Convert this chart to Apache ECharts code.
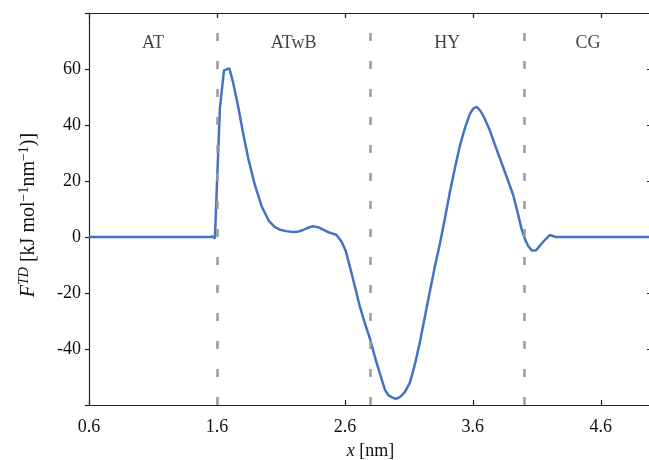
<!DOCTYPE html>
<html><head><meta charset="utf-8">
<script src="https://cdn.jsdelivr.net/npm/echarts@6/dist/echarts.min.js"></script>
<style>html,body{margin:0;padding:0;background:#fff}#c{width:649px;height:460px}</style>
</head><body><div id="c"></div>
<script>
// Distance along x [nm]
const xValues = [0.6, 1.0, 1.4, 1.545, 1.565, 1.584, 1.623, 1.655, 1.697, 1.727, 1.766, 1.805, 1.845, 1.897, 1.949, 2.005, 2.05, 2.092, 2.14, 2.196, 2.24, 2.274, 2.31, 2.345, 2.391, 2.43, 2.47, 2.505, 2.535, 2.574, 2.605, 2.639, 2.678, 2.717, 2.756, 2.795, 2.834, 2.873, 2.913, 2.94, 2.965, 2.995, 3.016, 3.04, 3.069, 3.108, 3.147, 3.186, 3.225, 3.264, 3.303, 3.342, 3.381, 3.42, 3.459, 3.498, 3.537, 3.577, 3.602, 3.63, 3.66, 3.69, 3.733, 3.772, 3.824, 3.868, 3.915, 3.954, 3.98, 4.005, 4.03, 4.06, 4.095, 4.15, 4.2, 4.25, 4.6, 5.0];
// Thermodynamic force F^TD [kJ mol^-1 nm^-1]
const fValues = [0, 0, 0, 0, 0.2, -0.5, 46, 59.5, 60.2, 55, 46.5, 37, 28, 18.5, 11, 5.8, 3.6, 2.6, 2.1, 1.8, 2.0, 2.5, 3.3, 3.8, 3.5, 2.6, 1.7, 1.2, 0.7, -1.7, -4.8, -10.6, -17.7, -24.9, -30.8, -36.2, -42.7, -48.7, -54.6, -56.5, -57.2, -57.8, -57.5, -56.8, -55.3, -52, -45.5, -37.5, -28.5, -19.5, -10.5, -2.5, 6.5, 16, 24.5, 32.5, 38.8, 44, 45.8, 46.5, 45, 42.5, 38, 33, 26.5, 21, 15, 8, 3, -0.5, -3, -4.8, -4.7, -1.7, 0.7, 0, 0, 0];

const xTicks = [0.6, 1.6, 2.6, 3.6, 4.6];
const yTickLabels = [-40, -20, 0, 20, 40, 60];
const boundaries = [1.6, 2.8, 4.0];
const regionNames = ['AT', 'ATwB', 'HY', 'CG'];
const regionCenters = [1.1, 2.2, 3.4, 4.5];
const regionLabelY = 69.3;

const FONT = 'Liberation Serif';
const TXT = '#111';
const AX = '#222';
const FS = 18;

const chart = echarts.init(document.getElementById('c'), null, {renderer: 'canvas'});
const lineData = xValues.map((x, i) => [x, fValues[i]]);

chart.setOption({
  animation: false,
  backgroundColor: '#fff',
  grid: {left: 89, top: 13, width: 563, height: 392, outerBoundsMode: 'none', containLabel: false},
  xAxis: [{
    type: 'value', min: 0.6, max: 5.0, position: 'bottom',
    axisLine: {show: true, onZero: false, lineStyle: {color: AX, width: 1.2}},
    axisTick: {show: true, inside: true, length: 5, customValues: xTicks, lineStyle: {color: AX, width: 1.2}},
    axisLabel: {show: true, customValues: xTicks, margin: 13, fontFamily: FONT, fontSize: FS, color: TXT,
      formatter: v => v.toFixed(1)},
    splitLine: {show: false},
    name: '{i|x} [nm]', nameLocation: 'middle', nameGap: 37,
    nameTextStyle: {fontFamily: FONT, fontSize: FS, color: TXT,
      rich: {i: {fontFamily: FONT, fontSize: FS, fontStyle: 'italic', color: TXT}}}
  }, {
    type: 'value', min: 0.6, max: 5.0, position: 'top',
    axisLine: {show: true, onZero: false, lineStyle: {color: AX, width: 1.2}},
    axisTick: {show: true, inside: true, length: 5, customValues: xTicks, lineStyle: {color: AX, width: 1.2}},
    axisLabel: {show: false},
    splitLine: {show: false}
  }],
  yAxis: [{
    type: 'value', min: -60, max: 80, interval: 20, position: 'left',
    axisLine: {show: true, onZero: false, lineStyle: {color: AX, width: 1.2}},
    axisTick: {show: true, inside: false, length: 4, lineStyle: {color: AX, width: 1.2}},
    axisLabel: {margin: 8, fontFamily: FONT, fontSize: FS, color: TXT,
      formatter: v => yTickLabels.indexOf(v) >= 0 ? String(v) : ''},
    splitLine: {show: false},
    name: '{i|F}{si|TD} [kJ mol{s|−1}nm{s|−1})]',
    nameLocation: 'middle', nameGap: 48, nameRotate: 90,
    nameTextStyle: {fontFamily: FONT, fontSize: 20, color: TXT, padding: [0, 12, 0, 0],
      rich: {
        i: {fontFamily: FONT, fontSize: 20, fontStyle: 'italic', color: TXT},
        si: {fontFamily: FONT, fontSize: 14, fontStyle: 'italic', color: TXT, padding: [0, 0, 10, 0]},
        s: {fontFamily: FONT, fontSize: 14, color: TXT, padding: [0, 0, 10, 0]}
      }}
  }, {
    type: 'value', min: -60, max: 80, interval: 20, position: 'right',
    axisLine: {show: true, onZero: false, lineStyle: {color: AX, width: 1.2}},
    axisTick: {show: true, inside: true, length: 5, lineStyle: {color: AX, width: 1.2}},
    axisLabel: {show: false},
    splitLine: {show: false}
  }],
  series: [{
    type: 'line', xAxisIndex: 0, yAxisIndex: 0,
    data: lineData, showSymbol: false, symbol: 'none', smooth: false,
    lineStyle: {color: '#4472C4', width: 2.5},
    z: 3,
    markLine: {
      silent: true, symbol: 'none', animation: false,
      label: {show: false},
      lineStyle: {color: '#9a9a9a', width: 2.5, type: [8, 20]},
      data: boundaries.map(b => [{coord: [b, -60]}, {coord: [b, 80]}])
    }
  }, {
    type: 'scatter', xAxisIndex: 0, yAxisIndex: 0,
    symbolSize: 0,
    data: regionNames.map((n, i) => ({name: n, value: [regionCenters[i], regionLabelY]})),
    label: {show: true, position: 'inside', formatter: p => p.name,
      fontFamily: FONT, fontSize: FS, color: TXT},
    z: 4
  }]
});
</script>
</body></html>
